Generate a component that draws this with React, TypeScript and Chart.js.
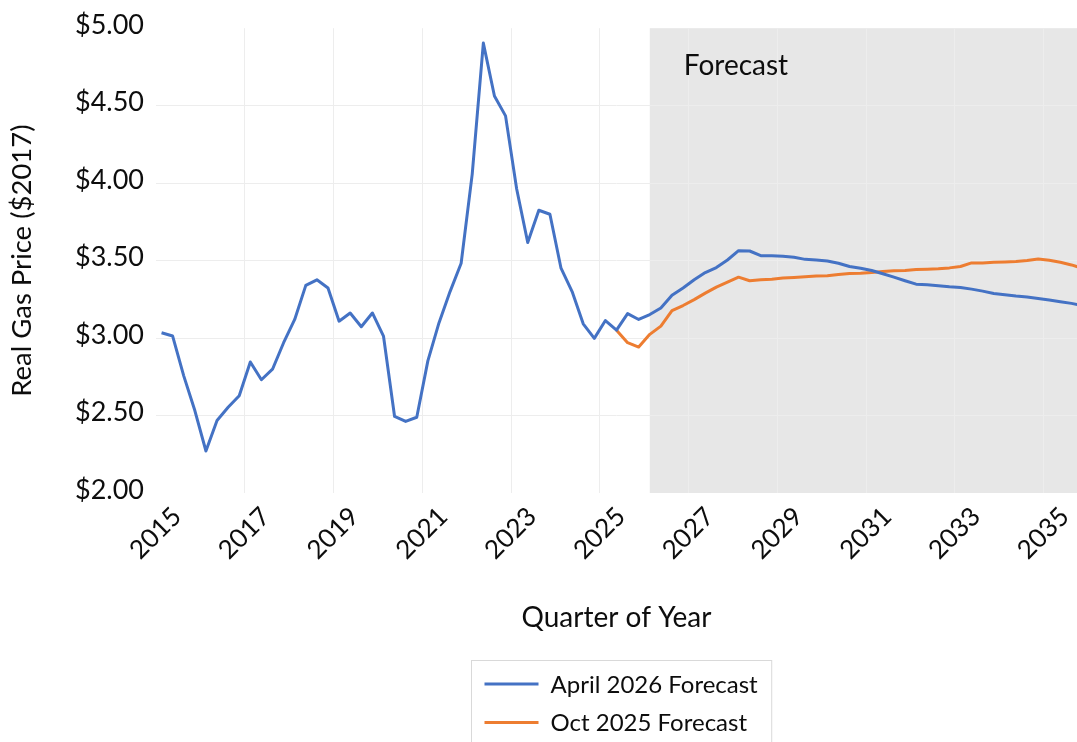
import React, { useEffect, useRef } from 'react';
import { Chart, registerables } from 'chart.js';

Chart.register(...registerables);

// Quarterly categories, 2015 Q1 .. 2035 Q4
const quarterLabels: string[] = [];
for (let y = 2015; y <= 2035; y++) {
  for (let q = 1; q <= 4; q++) quarterLabels.push(`${y} Q${q}`);
}

// Labelled years (every second year) and the quarter index where each starts
const yearTickLabels = ['2015', '2017', '2019', '2021', '2023', '2025', '2027', '2029', '2031', '2033', '2035'];
const yearTickQuarterIndex = [0, 8, 16, 24, 32, 40, 48, 56, 64, 72, 80];

// Visible quarter range on the x axis (2015 Q1 .. 2035 Q3)
const xFirstQuarter = 0;
const xLastQuarter = 82;

// Y axis ticks
const yMin = 2;
const yMax = 5;
const yStep = 0.5;

// April 2026 Forecast (real gas price, $2017), from 2015 Q1
const april2026Forecast = [
  3.034, 3.013, 2.756, 2.532, 2.271, 2.468, 2.553, 2.628,
  2.846, 2.731, 2.799, 2.97, 3.12, 3.34, 3.376, 3.323,
  3.109, 3.162, 3.073, 3.162, 3.013, 2.494, 2.462, 2.489,
  2.853, 3.098, 3.3, 3.483, 4.06, 4.904, 4.562, 4.434,
  3.964, 3.617, 3.825, 3.799, 3.451, 3.3, 3.092, 2.998,
  3.113, 3.051, 3.158, 3.12, 3.152, 3.194, 3.276, 3.323,
  3.376, 3.423, 3.455, 3.504, 3.564, 3.562, 3.532, 3.532,
  3.528, 3.521, 3.508, 3.504, 3.498, 3.483, 3.462, 3.451,
  3.436, 3.415, 3.393, 3.37, 3.348, 3.344, 3.338, 3.331,
  3.327, 3.316, 3.303, 3.288, 3.28, 3.271, 3.265, 3.256,
  3.246, 3.235, 3.224, 3.21,
];

// Oct 2025 Forecast, starting at quarter index 41 (2025 Q2)
const oct2025StartIndex = 41;
const oct2025Forecast = [
  3.051, 2.97, 2.942, 3.024, 3.077, 3.177, 3.21, 3.248,
  3.29, 3.329, 3.361, 3.393, 3.37, 3.376, 3.38, 3.387,
  3.391, 3.395, 3.4, 3.402, 3.41, 3.417, 3.419, 3.423,
  3.429, 3.434, 3.436, 3.442, 3.444, 3.447, 3.453, 3.462,
  3.485, 3.485, 3.489, 3.491, 3.494, 3.5, 3.51, 3.502,
  3.489, 3.472, 3.45,
];

// Forecast period starts at 2026 Q1
const forecastStartIndex = 44;

const seriesNames = ['April 2026 Forecast', 'Oct 2025 Forecast'];
const seriesColors = ['#4472C4', '#ED7D31'];

const FONT = 'Lato, "Open Sans", sans-serif';
const TEXT_COLOR = '#0d0d0d';

const shadePlugin = {
  id: 'forecastShade',
  beforeDraw(chart: any) {
    const { ctx, chartArea } = chart;
    const xs = chart.scales.x;
    const x0 = xs.getPixelForValue(forecastStartIndex);
    ctx.save();
    ctx.fillStyle = '#E7E7E7';
    ctx.fillRect(x0, chartArea.top, chartArea.right - x0, chartArea.bottom - chartArea.top);
    ctx.restore();
  },
  afterDatasetsDraw(chart: any) {
    const { ctx, chartArea } = chart;
    const xs = chart.scales.x;
    const x0 = xs.getPixelForValue(forecastStartIndex);
    ctx.save();
    ctx.fillStyle = TEXT_COLOR;
    ctx.font = `28px ${FONT}`;
    ctx.textAlign = 'left';
    ctx.textBaseline = 'alphabetic';
    ctx.fillText('Forecast', x0 + 34, chartArea.top + 47);
    ctx.restore();
  },
};

const legendPlugin = {
  id: 'boxLegend',
  afterDraw(chart: any) {
    const { ctx, chartArea } = chart;
    ctx.save();
    ctx.font = `24px ${FONT}`;
    const names = chart.data.datasets.map((d: any) => d.label as string);
    const textW = Math.max(...names.map((n: string) => ctx.measureText(n).width));
    const padL = 13;
    const lineLen = 54;
    const gap = 12;
    const padR = 14;
    const boxW = padL + lineLen + gap + textW + padR;
    const cx = (chartArea.left + chartArea.right) / 2 + 5;
    const left = Math.round(cx - boxW / 2) + 0.5;
    const top = 660.5;
    ctx.strokeStyle = '#D9D9D9';
    ctx.lineWidth = 1;
    ctx.strokeRect(left, top, boxW, 120);
    const rowY = [684, 722.5];
    chart.data.datasets.forEach((d: any, i: number) => {
      const y = rowY[i];
      ctx.strokeStyle = d.borderColor;
      ctx.lineWidth = 3;
      ctx.beginPath();
      ctx.moveTo(left + padL, y);
      ctx.lineTo(left + padL + lineLen, y);
      ctx.stroke();
      ctx.fillStyle = TEXT_COLOR;
      ctx.textAlign = 'left';
      ctx.textBaseline = 'middle';
      ctx.fillText(d.label, left + padL + lineLen + gap, y + 1);
    });
    ctx.restore();
  },
};

export default function App() {
  const canvasRef = useRef<HTMLCanvasElement | null>(null);

  useEffect(() => {
    const canvas = canvasRef.current;
    if (!canvas) return;
    Chart.defaults.font.family = FONT;
    Chart.defaults.color = TEXT_COLOR;

    const aprilData = april2026Forecast.map((v, i) => ({ x: i, y: v }));
    const octData = oct2025Forecast.map((v, k) => ({ x: oct2025StartIndex + k, y: v }));

    const chart = new Chart(canvas, {
      type: 'line',
      data: {
        labels: quarterLabels,
        datasets: [
          {
            label: seriesNames[0],
            data: aprilData,
            borderColor: seriesColors[0],
            backgroundColor: seriesColors[0],
            borderWidth: 3,
            pointRadius: 0,
            tension: 0,
            borderJoinStyle: 'round',
          },
          {
            label: seriesNames[1],
            data: octData,
            borderColor: seriesColors[1],
            backgroundColor: seriesColors[1],
            borderWidth: 3,
            pointRadius: 0,
            tension: 0,
            borderJoinStyle: 'round',
          },
        ],
      },
      options: {
        responsive: false,
        animation: false,
        events: [],
        layout: { padding: { top: 25, right: 0, bottom: 92, left: 0 } },
        plugins: {
          legend: { display: false },
          tooltip: { enabled: false },
          title: { display: false },
        },
        scales: {
          x: {
            type: 'linear',
            min: xFirstQuarter - 0.5,
            max: xLastQuarter + 0.5,
            afterBuildTicks: (axis: any) => {
              axis.ticks = yearTickQuarterIndex.map((q) => ({ value: q - 0.5 }));
            },
            afterFit: (axis: any) => {
              axis.height = 157;
            },
            ticks: {
              autoSkip: false,
              minRotation: 45,
              maxRotation: 45,
              labelOffset: 21,
              padding: 8,
              font: { size: 26, family: FONT },
              color: TEXT_COLOR,
              callback: (_v: any, idx: number) => yearTickLabels[idx],
            },
            grid: {
              drawTicks: false,
              color: (c: any) => (c.index === 0 ? 'rgba(0,0,0,0)' : '#EDEDED'),
              lineWidth: 1,
            },
            border: { display: false },
            title: {
              display: true,
              text: 'Quarter of Year',
              font: { size: 28, family: FONT },
              color: TEXT_COLOR,
              padding: { top: 0, bottom: 15 },
            },
          },
          y: {
            type: 'linear',
            min: yMin,
            max: yMax,
            afterFit: (axis: any) => {
              axis.width = 156;
            },
            ticks: {
              stepSize: yStep,
              padding: 12,
              labelOffset: -3,
              font: { size: 27, family: FONT },
              color: TEXT_COLOR,
              callback: (v: any) => '$' + Number(v).toFixed(2),
            },
            grid: {
              drawTicks: false,
              color: (c: any) =>
                c.tick && (c.tick.value === yMin || c.tick.value === yMax) ? 'rgba(0,0,0,0)' : '#EDEDED',
              lineWidth: 1,
            },
            border: { display: false },
            title: {
              display: true,
              text: 'Real Gas Price ($2017)',
              font: { size: 27.5, family: FONT },
              color: TEXT_COLOR,
              padding: { top: 6, bottom: 0 },
            },
          },
        },
      },
      plugins: [shadePlugin, legendPlugin],
    } as any);

    return () => {
      chart.destroy();
    };
  }, []);

  return (
    <div style={{ position: 'fixed', left: 0, top: 0, width: 1077, height: 742, background: '#fff' }}>
      <canvas ref={canvasRef} width={1077} height={742} style={{ display: 'block' }} />
    </div>
  );
}
